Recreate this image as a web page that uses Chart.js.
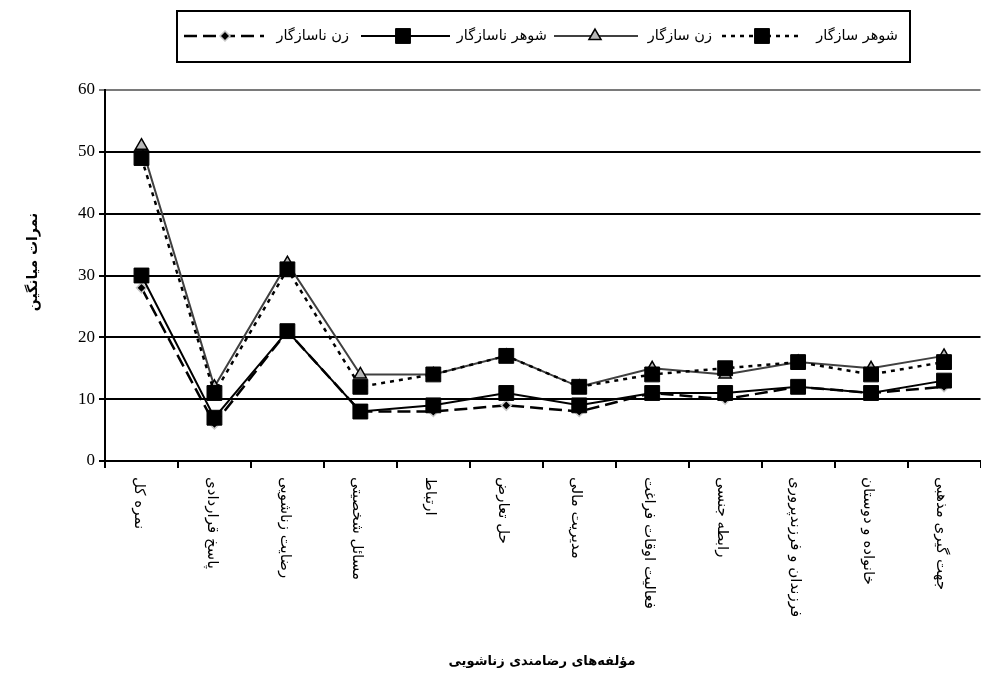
<!DOCTYPE html>
<html>
<head>
<meta charset="utf-8">
<script src="https://cdn.jsdelivr.net/npm/chart.js@4/dist/chart.umd.min.js"></script>
<style>
  html, body { margin: 0; padding: 0; background: #fff; overflow: hidden; }
  #wrap { position: relative; width: 992px; height: 677px; }
</style>
</head>
<body>
<div id="wrap"><canvas id="c"></canvas></div>
<script>
const categories = ['نمره کل','پاسخ قراردادی','رضایت زناشویی','مسائل شخصیتی','ارتباط','حل تعارض','مدیریت مالی','فعالیت اوقات فراغت','رابطه جنسی','فرزندان و فرزندپروری','خانواده و دوستان','جهت گیری مذهبی'];
const husbandCompatible   = [49, 11, 31, 12, 14, 17, 12, 14, 15, 16, 14, 16];
const wifeCompatible      = [51, 12, 32, 14, 14, 17, 12, 15, 14, 16, 15, 17];
const husbandIncompatible = [30, 7, 21, 8, 9, 11, 9, 11, 11, 12, 11, 13];
const wifeIncompatible    = [28, 6, 21, 8, 8, 9, 8, 11, 10, 12, 11, 12];
const seriesNames = ['شوهر سازگار', 'زن سازگار', 'شوهر ناسازگار', 'زن ناسازگار'];
const yTicks = [0, 10, 20, 30, 40, 50, 60];
const yTitle = 'نمرات میانگین';
const xTitle = 'مؤلفه‌های رضامندی زناشویی';

const FA = '"DejaVu Sans", sans-serif';

const datasets = [
  { label: seriesNames[0], data: husbandCompatible, borderColor: '#000', borderWidth: 2.5, borderDash: [4, 5],
    pointStyle: 'rect', pointRadius: 10.5, pointBackgroundColor: '#000', pointBorderColor: '#000', pointBorderWidth: 1, order: 1 },
  { label: seriesNames[1], data: wifeCompatible, borderColor: '#404040', borderWidth: 2, borderDash: [],
    pointStyle: 'triangle', pointRadius: 7, pointBackgroundColor: '#b8b8b8', pointBorderColor: '#000', pointBorderWidth: 1.5, order: 3 },
  { label: seriesNames[2], data: husbandIncompatible, borderColor: '#000', borderWidth: 2, borderDash: [],
    pointStyle: 'rect', pointRadius: 10.5, pointBackgroundColor: '#000', pointBorderColor: '#000', pointBorderWidth: 1, order: 2 },
  { label: seriesNames[3], data: wifeIncompatible, borderColor: '#000', borderWidth: 2.5, borderDash: [13, 6],
    pointStyle: 'rectRot', pointRadius: 5, pointBackgroundColor: '#000', pointBorderColor: '#c8c8c8', pointBorderWidth: 1.5, order: 4 }
];
datasets.forEach(d => { d.fill = false; d.tension = 0; d.pointHoverRadius = d.pointRadius; });

function drawMarker(ctx, style, x, y, r, fill, stroke, bw) {
  ctx.save();
  ctx.setLineDash([]);
  ctx.beginPath();
  if (style === 'rect') {
    const s = Math.SQRT1_2 * r;
    ctx.rect(x - s, y - s, 2 * s, 2 * s);
  } else if (style === 'triangle') {
    let rad = -Math.PI / 2;
    ctx.moveTo(x + Math.cos(rad) * r, y + Math.sin(rad) * r);
    rad += 2 * Math.PI / 3;
    ctx.lineTo(x + Math.cos(rad) * r, y + Math.sin(rad) * r);
    rad += 2 * Math.PI / 3;
    ctx.lineTo(x + Math.cos(rad) * r, y + Math.sin(rad) * r);
    ctx.closePath();
  } else if (style === 'rectRot') {
    ctx.moveTo(x, y - r); ctx.lineTo(x + r, y); ctx.lineTo(x, y + r); ctx.lineTo(x - r, y); ctx.closePath();
  }
  ctx.fillStyle = fill; ctx.fill();
  ctx.lineWidth = bw; ctx.strokeStyle = stroke; ctx.stroke();
  ctx.restore();
}

const customText = {
  id: 'customText',
  afterDraw(chart) {
    const ctx = chart.ctx;
    const xs = chart.scales.x;
    // x category labels, rotated clockwise
    ctx.save();
    ctx.fillStyle = '#000';
    ctx.font = '15px ' + FA;
    ctx.textAlign = 'left';
    ctx.textBaseline = 'middle';
    categories.forEach((c, i) => {
      const x = xs.getPixelForValue(i) - 3;
      ctx.save();
      ctx.translate(x, 477);
      ctx.rotate(Math.PI / 2);
      ctx.fillText(c, 0, 0);
      ctx.restore();
    });
    ctx.restore();
    // axis titles
    ctx.save();
    ctx.fillStyle = '#000';
    ctx.font = 'bold 13px ' + FA;
    ctx.textAlign = 'center';
    ctx.textBaseline = 'middle';
    ctx.fillText(xTitle, 542, 662);
    ctx.font = 'bold 14px ' + FA;
    ctx.translate(33, 262);
    ctx.rotate(-Math.PI / 2);
    ctx.fillText(yTitle, 0, 0);
    ctx.restore();
    // legend
    ctx.save();
    ctx.strokeStyle = '#000';
    ctx.lineWidth = 2;
    ctx.strokeRect(177, 11, 733, 51);
    const items = [
      { ds: 0, textRight: 898, lineL: 722, lineR: 803, mx: 762 },
      { ds: 1, textRight: 712, lineL: 554, lineR: 638, mx: 595 },
      { ds: 2, textRight: 547, lineL: 361, lineR: 450, mx: 403 },
      { ds: 3, textRight: 349, lineL: 184, lineR: 264, mx: 225 }
    ];
    const ly = 36;
    ctx.font = '14.5px ' + FA;
    ctx.textAlign = 'right';
    ctx.textBaseline = 'middle';
    items.forEach(it => {
      const d = datasets[it.ds];
      ctx.fillStyle = '#000';
      ctx.fillText(d.label, it.textRight, ly);
      ctx.save();
      ctx.beginPath();
      ctx.setLineDash(d.borderDash);
      ctx.strokeStyle = d.borderColor;
      ctx.lineWidth = d.borderWidth;
      ctx.moveTo(it.lineL, ly); ctx.lineTo(it.lineR, ly);
      ctx.stroke();
      ctx.restore();
      drawMarker(ctx, d.pointStyle, it.mx, ly, d.pointRadius, d.pointBackgroundColor, d.pointBorderColor, d.pointBorderWidth);
    });
    ctx.restore();
  }
};

new Chart(document.getElementById('c'), {
  type: 'line',
  data: { labels: categories, datasets: datasets },
  options: {
    responsive: true,
    maintainAspectRatio: false,
    animation: false,
    layout: { padding: { top: 90, right: 1, left: 0, bottom: 0 } },
    plugins: { legend: { display: false }, tooltip: { enabled: false }, title: { display: false } },
    scales: {
      x: {
        type: 'category',
        offset: true,
        grid: { display: true, drawOnChartArea: false, drawTicks: true, tickLength: 7, color: '#000', lineWidth: 2, offset: true },
        border: { display: true, color: '#000', width: 2 },
        ticks: { display: false },
        afterFit(scale) { scale.height = 216; }
      },
      y: {
        min: 0, max: 60,
        afterBuildTicks(scale) { scale.ticks = yTicks.map(v => ({ value: v })); },
        grid: {
          color: (c) => (c.tick && c.tick.value === 60) ? '#7a7a7a' : '#000',
          lineWidth: 2, drawTicks: true, tickLength: 6
        },
        border: { display: true, color: '#000', width: 2 },
        ticks: { color: '#000', font: { family: '"Liberation Serif", serif', size: 17 }, padding: 4 },
        afterFit(scale) { scale.width = 105; }
      }
    }
  },
  plugins: [customText]
});
</script>
</body>
</html>
